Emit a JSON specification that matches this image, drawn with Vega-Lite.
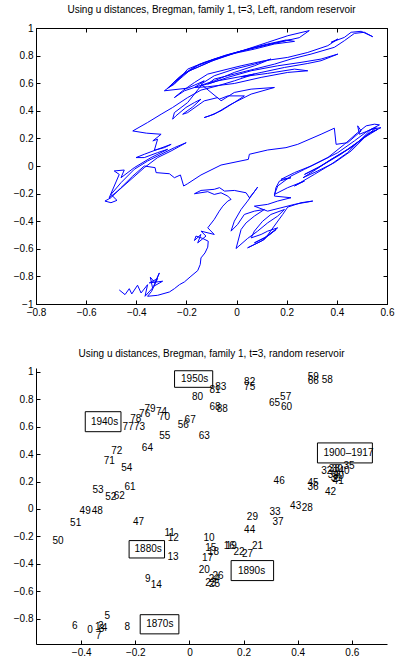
{
"$schema": "https://vega.github.io/schema/vega-lite/v6.json",
"padding": {"left": 12, "top": 4, "right": 5, "bottom": 5},
"spacing": 30,
"config": {
  "font": "Liberation Sans",
  "view": {"stroke": "black", "strokeWidth": 1},
  "axis": {"domainColor": "black", "tickColor": "black", "labelColor": "black", "labelFontSize": 10, "labelFont": "Liberation Sans", "tickSize": -4, "grid": false, "format": "~g", "labelFlush": false, "labelOverlap": false, "domainWidth": 1, "tickWidth": 1, "labelPadding": 7},
  "title": {"fontSize": 10, "font": "Liberation Sans", "fontWeight": "normal", "color": "black", "offset": 8}
},
"datasets": {
"traj": [
{"i":1,"x":-0.468,"y":-0.898},{"i":2,"x":-0.445,"y":-0.932},{"i":3,"x":-0.428,"y":-0.889},{"i":4,"x":-0.418,"y":-0.927},{"i":5,"x":-0.395,"y":-0.864},{"i":6,"x":-0.381,"y":-0.920},{"i":7,"x":-0.355,"y":-0.860},{"i":8,"x":-0.365,"y":-0.944},{"i":9,"x":-0.335,"y":-0.884},{"i":10,"x":-0.344,"y":-0.806},
{"i":11,"x":-0.325,"y":-0.847},{"i":12,"x":-0.308,"y":-0.775},{"i":13,"x":-0.331,"y":-0.872},{"i":14,"x":-0.295,"y":-0.835},{"i":15,"x":-0.348,"y":-0.847},{"i":16,"x":-0.315,"y":-0.816},{"i":17,"x":-0.339,"y":-0.908},{"i":18,"x":-0.355,"y":-0.944},{"i":19,"x":-0.315,"y":-0.937},{"i":20,"x":-0.268,"y":-0.913},
{"i":21,"x":-0.248,"y":-0.889},{"i":22,"x":-0.228,"y":-0.860},{"i":23,"x":-0.208,"y":-0.840},{"i":24,"x":-0.182,"y":-0.799},{"i":25,"x":-0.155,"y":-0.758},{"i":26,"x":-0.145,"y":-0.714},{"i":27,"x":-0.142,"y":-0.666},{"i":28,"x":-0.126,"y":-0.630},{"i":29,"x":-0.115,"y":-0.588},{"i":30,"x":-0.113,"y":-0.545},
{"i":31,"x":-0.135,"y":-0.525},{"i":32,"x":-0.162,"y":-0.508},{"i":33,"x":-0.168,"y":-0.540},{"i":34,"x":-0.142,"y":-0.496},{"i":35,"x":-0.155,"y":-0.557},{"i":36,"x":-0.122,"y":-0.508},{"i":37,"x":-0.142,"y":-0.472},{"i":38,"x":-0.089,"y":-0.496},{"i":39,"x":-0.115,"y":-0.448},{"i":40,"x":-0.089,"y":-0.387},
{"i":41,"x":-0.069,"y":-0.327},{"i":42,"x":-0.055,"y":-0.291},{"i":43,"x":-0.035,"y":-0.254},{"i":44,"x":-0.022,"y":-0.242},{"i":45,"x":-0.035,"y":-0.218},{"i":46,"x":-0.062,"y":-0.194},{"i":47,"x":-0.089,"y":-0.206},{"i":48,"x":-0.115,"y":-0.186},{"i":49,"x":-0.168,"y":-0.201},{"i":50,"x":-0.142,"y":-0.177},
{"i":51,"x":-0.089,"y":-0.169},{"i":52,"x":-0.068,"y":-0.157},{"i":53,"x":-0.048,"y":-0.182},{"i":54,"x":-0.009,"y":-0.177},{"i":55,"x":0.038,"y":-0.194},{"i":56,"x":0.051,"y":-0.230},{"i":57,"x":0.071,"y":-0.186},{"i":58,"x":0.084,"y":-0.153},{"i":59,"x":0.044,"y":-0.254},{"i":60,"x":0.018,"y":-0.315},
{"i":61,"x":-0.009,"y":-0.400},{"i":62,"x":-0.022,"y":-0.472},{"i":63,"x":0.004,"y":-0.424},{"i":64,"x":0.031,"y":-0.351},{"i":65,"x":0.071,"y":-0.327},{"i":66,"x":0.111,"y":-0.315},{"i":67,"x":0.071,"y":-0.363},{"i":68,"x":0.038,"y":-0.412},{"i":69,"x":0.018,"y":-0.460},{"i":70,"x":-0.002,"y":-0.598},
{"i":71,"x":0.044,"y":-0.525},{"i":72,"x":0.084,"y":-0.472},{"i":73,"x":0.124,"y":-0.412},{"i":74,"x":0.164,"y":-0.363},{"i":75,"x":0.191,"y":-0.315},{"i":76,"x":0.137,"y":-0.351},{"i":77,"x":0.104,"y":-0.400},{"i":78,"x":0.071,"y":-0.472},{"i":79,"x":0.058,"y":-0.521},{"i":80,"x":0.098,"y":-0.496},
{"i":81,"x":0.124,"y":-0.472},{"i":82,"x":0.164,"y":-0.448},{"i":83,"x":0.111,"y":-0.521},{"i":84,"x":0.071,"y":-0.557},{"i":85,"x":0.124,"y":-0.508},{"i":86,"x":0.158,"y":-0.460},{"i":87,"x":0.098,"y":-0.545},{"i":88,"x":0.044,"y":-0.593},{"i":89,"x":0.111,"y":-0.533},{"i":90,"x":0.184,"y":-0.351},
{"i":91,"x":0.204,"y":-0.298},{"i":92,"x":0.257,"y":-0.266},{"i":93,"x":0.304,"y":-0.254},{"i":94,"x":0.231,"y":-0.278},{"i":95,"x":0.177,"y":-0.303},{"i":96,"x":0.124,"y":-0.327},{"i":97,"x":0.071,"y":-0.291},{"i":98,"x":0.124,"y":-0.278},{"i":99,"x":0.164,"y":-0.254},{"i":100,"x":0.217,"y":-0.230},
{"i":101,"x":0.151,"y":-0.218},{"i":102,"x":0.157,"y":-0.157},{"i":103,"x":0.171,"y":-0.109},{"i":104,"x":0.217,"y":-0.085},{"i":105,"x":0.177,"y":-0.097},{"i":106,"x":0.231,"y":-0.048},{"i":107,"x":0.297,"y":0.000},{"i":108,"x":0.364,"y":0.061},{"i":109,"x":0.430,"y":0.157},{"i":110,"x":0.483,"y":0.242},
{"i":111,"x":0.517,"y":0.291},{"i":112,"x":0.550,"y":0.303},{"i":113,"x":0.570,"y":0.298},{"i":114,"x":0.523,"y":0.254},{"i":115,"x":0.470,"y":0.182},{"i":116,"x":0.404,"y":0.097},{"i":117,"x":0.337,"y":0.036},{"i":118,"x":0.271,"y":-0.024},{"i":119,"x":0.217,"y":-0.073},{"i":120,"x":0.164,"y":-0.145},
{"i":121,"x":0.151,"y":-0.206},{"i":122,"x":0.204,"y":-0.157},{"i":123,"x":0.271,"y":-0.109},{"i":124,"x":0.231,"y":-0.145},{"i":125,"x":0.310,"y":-0.061},{"i":126,"x":0.377,"y":0.012},{"i":127,"x":0.443,"y":0.097},{"i":128,"x":0.497,"y":0.194},{"i":129,"x":0.537,"y":0.266},{"i":130,"x":0.576,"y":0.278},
{"i":131,"x":0.523,"y":0.230},{"i":132,"x":0.457,"y":0.133},{"i":133,"x":0.390,"y":0.061},{"i":134,"x":0.324,"y":-0.012},{"i":135,"x":0.271,"y":-0.061},{"i":136,"x":0.337,"y":0.000},{"i":137,"x":0.416,"y":0.085},{"i":138,"x":0.490,"y":0.182},{"i":139,"x":0.533,"y":0.242},{"i":140,"x":0.563,"y":0.266},
{"i":141,"x":0.510,"y":0.206},{"i":142,"x":0.443,"y":0.121},{"i":143,"x":0.377,"y":0.048},{"i":144,"x":0.318,"y":-0.024},{"i":145,"x":0.265,"y":-0.085},{"i":146,"x":0.324,"y":-0.036},{"i":147,"x":0.390,"y":0.024},{"i":148,"x":0.457,"y":0.109},{"i":149,"x":0.517,"y":0.218},{"i":150,"x":0.557,"y":0.278},
{"i":151,"x":0.490,"y":0.230},{"i":152,"x":0.483,"y":0.291},{"i":153,"x":0.497,"y":0.254},{"i":154,"x":0.443,"y":0.169},{"i":155,"x":0.397,"y":0.157},{"i":156,"x":0.390,"y":0.274},{"i":157,"x":0.337,"y":0.230},{"i":158,"x":0.244,"y":0.157},{"i":159,"x":0.197,"y":0.133},{"i":160,"x":0.124,"y":0.116},
{"i":161,"x":0.051,"y":0.085},{"i":162,"x":0.047,"y":0.048},{"i":163,"x":-0.062,"y":0.007},{"i":164,"x":-0.142,"y":-0.065},{"i":165,"x":-0.195,"y":-0.128},{"i":166,"x":-0.211,"y":-0.145},{"i":167,"x":-0.224,"y":-0.065},{"i":168,"x":-0.248,"y":-0.085},{"i":169,"x":-0.268,"y":-0.056},{"i":170,"x":-0.321,"y":-0.048},
{"i":171,"x":-0.325,"y":-0.012},{"i":172,"x":-0.368,"y":0.000},{"i":173,"x":-0.414,"y":-0.073},{"i":174,"x":-0.461,"y":-0.157},{"i":175,"x":-0.501,"y":-0.230},{"i":176,"x":-0.525,"y":-0.254},{"i":177,"x":-0.501,"y":-0.266},{"i":178,"x":-0.477,"y":-0.249},{"i":179,"x":-0.501,"y":-0.206},{"i":180,"x":-0.461,"y":-0.121},
{"i":181,"x":-0.408,"y":-0.024},{"i":182,"x":-0.355,"y":0.036},{"i":183,"x":-0.301,"y":0.085},{"i":184,"x":-0.248,"y":0.133},{"i":185,"x":-0.201,"y":0.169},{"i":186,"x":-0.261,"y":0.109},{"i":187,"x":-0.315,"y":0.061},{"i":188,"x":-0.368,"y":-0.012},{"i":189,"x":-0.421,"y":-0.097},{"i":190,"x":-0.474,"y":-0.182},
{"i":191,"x":-0.508,"y":-0.230},{"i":192,"x":-0.468,"y":-0.061},{"i":193,"x":-0.488,"y":-0.036},{"i":194,"x":-0.448,"y":-0.029},{"i":195,"x":-0.461,"y":-0.085},{"i":196,"x":-0.408,"y":-0.012},{"i":197,"x":-0.341,"y":0.061},{"i":198,"x":-0.275,"y":0.121},{"i":199,"x":-0.315,"y":0.097},{"i":200,"x":-0.368,"y":0.061},
{"i":201,"x":-0.401,"y":0.061},{"i":202,"x":-0.368,"y":0.085},{"i":203,"x":-0.315,"y":0.121},{"i":204,"x":-0.261,"y":0.157},{"i":205,"x":-0.288,"y":0.133},{"i":206,"x":-0.328,"y":0.114},{"i":207,"x":-0.315,"y":0.194},{"i":208,"x":-0.334,"y":0.182},{"i":209,"x":-0.301,"y":0.230},{"i":210,"x":-0.360,"y":0.238},
{"i":211,"x":-0.414,"y":0.254},{"i":212,"x":-0.355,"y":0.315},{"i":213,"x":-0.301,"y":0.375},{"i":214,"x":-0.255,"y":0.424},{"i":215,"x":-0.195,"y":0.496},{"i":216,"x":-0.142,"y":0.550},{"i":217,"x":-0.075,"y":0.581},{"i":218,"x":-0.009,"y":0.617},{"i":219,"x":0.071,"y":0.666},{"i":220,"x":-0.075,"y":0.617},
{"i":221,"x":-0.142,"y":0.581},{"i":222,"x":-0.195,"y":0.460},{"i":223,"x":-0.248,"y":0.387},{"i":224,"x":-0.255,"y":0.339},{"i":225,"x":-0.242,"y":0.363},{"i":226,"x":-0.202,"y":0.424},{"i":227,"x":-0.168,"y":0.460},{"i":228,"x":-0.142,"y":0.484},{"i":229,"x":-0.175,"y":0.428},{"i":230,"x":-0.215,"y":0.375},
{"i":231,"x":-0.195,"y":0.387},{"i":232,"x":-0.129,"y":0.472},{"i":233,"x":-0.075,"y":0.496},{"i":234,"x":-0.062,"y":0.472},{"i":235,"x":-0.009,"y":0.533},{"i":236,"x":0.058,"y":0.557},{"i":237,"x":0.151,"y":0.569},{"i":238,"x":0.058,"y":0.521},{"i":239,"x":-0.022,"y":0.448},{"i":240,"x":-0.089,"y":0.375},
{"i":241,"x":-0.129,"y":0.351},{"i":242,"x":-0.109,"y":0.363},{"i":243,"x":-0.062,"y":0.400},{"i":244,"x":-0.009,"y":0.460},{"i":245,"x":0.031,"y":0.508},{"i":246,"x":-0.035,"y":0.508},{"i":247,"x":-0.069,"y":0.484},{"i":248,"x":-0.142,"y":0.593},{"i":249,"x":-0.089,"y":0.654},{"i":250,"x":-0.009,"y":0.702},
{"i":251,"x":0.071,"y":0.738},{"i":252,"x":0.137,"y":0.775},{"i":253,"x":0.071,"y":0.726},{"i":254,"x":-0.009,"y":0.678},{"i":255,"x":-0.089,"y":0.617},{"i":256,"x":-0.168,"y":0.569},{"i":257,"x":-0.208,"y":0.545},{"i":258,"x":-0.248,"y":0.496},{"i":259,"x":-0.215,"y":0.545},{"i":260,"x":-0.168,"y":0.605},
{"i":261,"x":-0.115,"y":0.666},{"i":262,"x":-0.062,"y":0.690},{"i":263,"x":0.018,"y":0.726},{"i":264,"x":0.111,"y":0.763},{"i":265,"x":0.204,"y":0.787},{"i":266,"x":0.284,"y":0.823},{"i":267,"x":0.364,"y":0.872},{"i":268,"x":0.404,"y":0.920},{"i":269,"x":0.377,"y":0.896},{"i":270,"x":0.430,"y":0.932},
{"i":271,"x":0.457,"y":0.969},{"i":272,"x":0.497,"y":0.976},{"i":273,"x":0.543,"y":0.937},{"i":274,"x":0.510,"y":0.969},{"i":275,"x":0.470,"y":0.961},{"i":276,"x":0.430,"y":0.908},{"i":277,"x":0.390,"y":0.860},{"i":278,"x":0.297,"y":0.811},{"i":279,"x":0.217,"y":0.775},{"i":280,"x":0.151,"y":0.738},
{"i":281,"x":0.071,"y":0.702},{"i":282,"x":-0.009,"y":0.666},{"i":283,"x":-0.089,"y":0.630},{"i":284,"x":-0.115,"y":0.593},{"i":285,"x":-0.035,"y":0.642},{"i":286,"x":0.058,"y":0.690},{"i":287,"x":0.164,"y":0.726},{"i":288,"x":0.257,"y":0.751},{"i":289,"x":0.337,"y":0.775},{"i":290,"x":0.404,"y":0.811},
{"i":291,"x":0.337,"y":0.763},{"i":292,"x":0.284,"y":0.743},{"i":293,"x":0.191,"y":0.714},{"i":294,"x":0.098,"y":0.678},{"i":295,"x":0.018,"y":0.646},{"i":296,"x":0.124,"y":0.671},{"i":297,"x":0.231,"y":0.702},{"i":298,"x":0.284,"y":0.690},{"i":299,"x":0.204,"y":0.678},{"i":300,"x":0.098,"y":0.642},
{"i":301,"x":-0.009,"y":0.598},{"i":302,"x":-0.115,"y":0.574},{"i":303,"x":-0.168,"y":0.569},{"i":304,"x":-0.129,"y":0.617},{"i":305,"x":-0.195,"y":0.564},{"i":306,"x":-0.288,"y":0.545},{"i":307,"x":-0.235,"y":0.617},{"i":308,"x":-0.188,"y":0.690},{"i":309,"x":-0.142,"y":0.726},{"i":310,"x":-0.089,"y":0.768},
{"i":311,"x":-0.022,"y":0.811},{"i":312,"x":0.044,"y":0.847},{"i":313,"x":0.124,"y":0.884},{"i":314,"x":0.197,"y":0.913},{"i":315,"x":0.231,"y":0.903},{"i":316,"x":0.151,"y":0.884},{"i":317,"x":0.071,"y":0.847},{"i":318,"x":-0.009,"y":0.816},{"i":319,"x":-0.089,"y":0.775},{"i":320,"x":-0.168,"y":0.719},
{"i":321,"x":-0.222,"y":0.654},{"i":322,"x":-0.275,"y":0.564},{"i":323,"x":-0.248,"y":0.593},{"i":324,"x":-0.195,"y":0.702},{"i":325,"x":-0.129,"y":0.751},{"i":326,"x":-0.049,"y":0.799},{"i":327,"x":0.031,"y":0.840},{"i":328,"x":0.124,"y":0.896},{"i":329,"x":0.204,"y":0.944},{"i":330,"x":0.290,"y":0.981},
{"i":331,"x":0.250,"y":0.930},{"i":332,"x":0.160,"y":0.893},{"i":333,"x":0.060,"y":0.852},{"i":334,"x":-0.040,"y":0.805},{"i":335,"x":-0.150,"y":0.735},{"i":336,"x":-0.230,"y":0.640},{"i":337,"x":-0.260,"y":0.590},{"i":338,"x":-0.200,"y":0.680},{"i":339,"x":-0.100,"y":0.760},{"i":340,"x":0.010,"y":0.828},
{"i":341,"x":0.120,"y":0.878},{"i":342,"x":0.215,"y":0.915}
],
"nums": [
{"t":"0","x":-0.378,"y":-0.885},{"t":"1","x":-0.349,"y":-0.861},{"t":"2","x":-0.338,"y":-0.854},{"t":"3","x":-0.335,"y":-0.876},{"t":"4","x":-0.324,"y":-0.869},{"t":"5","x":-0.314,"y":-0.783},{"t":"6","x":-0.434,"y":-0.854},{"t":"7","x":-0.346,"y":-0.925},{"t":"8","x":-0.240,"y":-0.861},{"t":"9","x":-0.164,"y":-0.511},
{"t":"10","x":0.052,"y":-0.212},{"t":"11","x":-0.092,"y":-0.177},{"t":"12","x":-0.080,"y":-0.214},{"t":"13","x":-0.081,"y":-0.353},{"t":"14","x":-0.143,"y":-0.555},{"t":"15","x":0.058,"y":-0.285},{"t":"16","x":0.127,"y":-0.272},{"t":"17","x":0.046,"y":-0.360},{"t":"18","x":0.068,"y":-0.316},{"t":"19","x":0.134,"y":-0.272},
{"t":"20","x":0.034,"y":-0.445},{"t":"21","x":0.231,"y":-0.272},{"t":"22","x":0.163,"y":-0.316},{"t":"23","x":0.058,"y":-0.540},{"t":"24","x":0.071,"y":-0.511},{"t":"25","x":0.072,"y":-0.547},{"t":"26","x":0.085,"y":-0.489},{"t":"27","x":0.194,"y":-0.328},{"t":"28","x":0.415,"y":0.007},{"t":"29","x":0.212,"y":-0.061},
{"t":"30","x":0.526,"y":0.292},{"t":"31","x":0.522,"y":0.226},{"t":"32","x":0.487,"y":0.280},{"t":"33","x":0.296,"y":-0.020},{"t":"34","x":0.511,"y":0.245},{"t":"35","x":0.569,"y":0.312},{"t":"36","x":0.436,"y":0.161},{"t":"37","x":0.307,"y":-0.097},{"t":"38","x":0.515,"y":0.288},{"t":"39","x":0.530,"y":0.241},
{"t":"40","x":0.551,"y":0.275},{"t":"41","x":0.529,"y":0.202},{"t":"42","x":0.501,"y":0.122},{"t":"43","x":0.372,"y":0.024},{"t":"44","x":0.202,"y":-0.153},{"t":"45","x":0.436,"y":0.190},{"t":"46","x":0.311,"y":0.202},{"t":"47","x":-0.209,"y":-0.097},{"t":"48","x":-0.361,"y":-0.017},{"t":"49","x":-0.406,"y":-0.017},
{"t":"50","x":-0.506,"y":-0.236},{"t":"51","x":-0.441,"y":-0.104},{"t":"52","x":-0.311,"y":0.090},{"t":"53","x":-0.358,"y":0.141},{"t":"54","x":-0.252,"y":0.297},{"t":"55","x":-0.112,"y":0.531},{"t":"56","x":-0.043,"y":0.615},{"t":"57","x":0.335,"y":0.815},{"t":"58","x":0.489,"y":0.942},{"t":"59","x":0.437,"y":0.966},
{"t":"60","x":0.338,"y":0.742},{"t":"61","x":-0.240,"y":0.158},{"t":"62","x":-0.280,"y":0.097},{"t":"63","x":0.034,"y":0.535},{"t":"64","x":-0.176,"y":0.445},{"t":"65","x":0.294,"y":0.772},{"t":"66","x":0.437,"y":0.934},{"t":"67","x":-0.018,"y":0.652},{"t":"68","x":0.074,"y":0.747},
{"t":"70","x":-0.113,"y":0.672},{"t":"71","x":-0.317,"y":0.353},{"t":"72","x":-0.289,"y":0.426},{"t":"73","x":-0.205,"y":0.596},{"t":"74","x":-0.124,"y":0.708},{"t":"75","x":0.202,"y":0.888},{"t":"76","x":-0.186,"y":0.693},{"t":"77","x":-0.247,"y":0.596},{"t":"78","x":-0.219,"y":0.657},{"t":"79","x":-0.166,"y":0.730},
{"t":"80","x":0.009,"y":0.820},{"t":"81","x":0.074,"y":0.869},{"t":"82","x":0.202,"y":0.925},{"t":"83","x":0.095,"y":0.888},{"t":"88","x":0.101,"y":0.727}
],
"dec": [
{"t":"1950s","x":-0.031,"y":0.949,"x1":-0.055,"x2":0.086,"y1":0.888,"y2":1.009},
{"t":"1940s","x":-0.364,"y":0.637,"x1":-0.385,"x2":-0.253,"y1":0.564,"y2":0.710},
{"t":"1900–1917","x":0.495,"y":0.409,"x1":0.473,"x2":0.676,"y1":0.336,"y2":0.482},
{"t":"1880s","x":-0.203,"y":-0.292,"x1":-0.223,"x2":-0.092,"y1":-0.358,"y2":-0.231},
{"t":"1890s","x":0.179,"y":-0.450,"x1":0.154,"x2":0.311,"y1":-0.523,"y2":-0.377},
{"t":"1870s","x":-0.160,"y":-0.842,"x1":-0.182,"x2":-0.039,"y1":-0.912,"y2":-0.772}
]
},
"vconcat": [
{
  "title": "Using u distances, Bregman, family 1, t=3, Left, random reservoir",
  "width": 351, "height": 276,
  "data": {"name": "traj"},
  "layer": [
    {"mark": {"type": "line", "color": "#0000ff", "strokeWidth": 1},
     "encoding": {
       "x": {"field": "x", "type": "quantitative", "scale": {"domain": [-0.8, 0.6], "nice": false, "zero": false}, "axis": {"title": null, "values": [-0.8,-0.6,-0.4,-0.2,0,0.2,0.4,0.6]}},
       "y": {"field": "y", "type": "quantitative", "scale": {"domain": [-1, 1], "nice": false, "zero": false}, "axis": {"title": null, "values": [-1,-0.8,-0.6,-0.4,-0.2,0,0.2,0.4,0.6,0.8,1]}},
       "order": {"field": "i", "type": "quantitative"}
     }},
    {"mark": {"type": "point", "opacity": 0},
     "encoding": {
       "x": {"field": "x", "type": "quantitative", "axis": {"title": null, "orient": "top", "labels": false, "values": [-0.8,-0.6,-0.4,-0.2,0,0.2,0.4,0.6]}},
       "y": {"field": "y", "type": "quantitative", "axis": {"title": null, "orient": "right", "labels": false, "values": [-1,-0.8,-0.6,-0.4,-0.2,0,0.2,0.4,0.6,0.8,1]}}
     }}
  ],
  "resolve": {"axis": {"x": "independent", "y": "independent"}}
},
{
  "title": "Using u distances, Bregman, family 1, t=3, random reservoir",
  "width": 351, "height": 276,
  "view": {"stroke": null},
  "encoding": {
    "x": {"type": "quantitative", "scale": {"domain": [-0.567, 0.73], "nice": false, "zero": false}, "axis": {"title": null, "values": [-0.4,-0.2,0,0.2,0.4,0.6]}},
    "y": {"type": "quantitative", "scale": {"domain": [-0.986, 1.029], "nice": false, "zero": false}, "axis": {"title": null, "values": [-0.8,-0.6,-0.4,-0.2,0,0.2,0.4,0.6,0.8,1]}}
  },
  "layer": [
    {"data": {"name": "dec"}, "mark": {"type": "rect", "fillOpacity": 0, "stroke": "black", "strokeWidth": 1},
     "encoding": {"x": {"field": "x1", "type": "quantitative"}, "x2": {"field": "x2"}, "y": {"field": "y1", "type": "quantitative"}, "y2": {"field": "y2"}}},
    {"data": {"name": "nums"}, "mark": {"type": "text", "align": "left", "baseline": "middle", "fontSize": 10, "color": "black"},
     "encoding": {"x": {"field": "x", "type": "quantitative"}, "y": {"field": "y", "type": "quantitative"}, "text": {"field": "t"}}},
    {"data": {"name": "dec"}, "mark": {"type": "text", "align": "left", "baseline": "middle", "fontSize": 10, "color": "black"},
     "encoding": {"x": {"field": "x", "type": "quantitative"}, "y": {"field": "y", "type": "quantitative"}, "text": {"field": "t"}}}
  ]
}
]
}
